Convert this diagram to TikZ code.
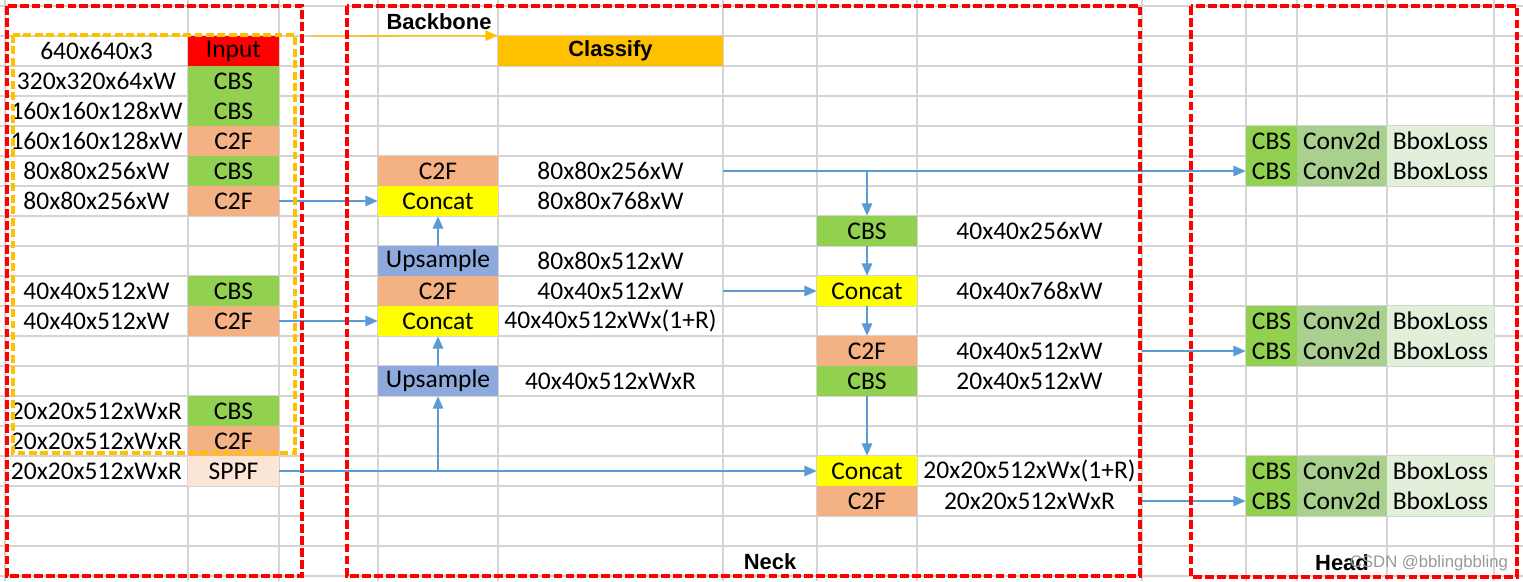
\documentclass[tikz,border=0pt]{standalone}
\usepackage{fontspec}
\setmainfont{Carlito}
\newfontfamily\titlefont{Liberation Sans}
\usetikzlibrary{arrows.meta,positioning,calc}
\definecolor{cbsgreen}{HTML}{92D050}
\definecolor{ctwof}{HTML}{F4B183}
\definecolor{catyellow}{HTML}{FFFF00}
\definecolor{upblue}{HTML}{8EA9DB}
\definecolor{sppfpink}{HTML}{FBE5D6}
\definecolor{clsorange}{HTML}{FFC000}
\definecolor{convgreen}{HTML}{A9D08E}
\definecolor{bboxgreen}{HTML}{E2EFDA}
\definecolor{inputred}{HTML}{FF0000}
\definecolor{gridgray}{HTML}{D4D4D4}
\definecolor{arrowblue}{HTML}{5B9BD5}

\tikzset{
  cell/.style={inner sep=0pt, minimum height=0.6cm, font=\fontsize{14.5}{16}\selectfont},
  shapecol/.style={cell, minimum width=3.66cm},
  blockcol/.style={cell, minimum width=1.82cm},
  neckcol/.style={cell, minimum width=2.4cm},
  labcol/.style={cell, minimum width=4.5cm},
  pancol/.style={cell, minimum width=2cm},
  hcbs/.style={cell, minimum width=1.02cm, fill=cbsgreen},
  hconv/.style={cell, minimum width=1.8cm, fill=convgreen},
  hbbox/.style={cell, minimum width=2.14cm, fill=bboxgreen},
  flow/.style={-{Triangle[length=7pt,width=6pt]}, arrowblue, line width=0.75pt},
  partbox/.style={red, dash pattern=on 5pt off 1.8pt, line width=2.1pt},
  bbbox/.style={clsorange, dash pattern=on 4.5pt off 2pt, line width=1.8pt},
  title/.style={font=\titlefont\bfseries\fontsize{12.5}{14}\selectfont},
}

\begin{document}
\begin{tikzpicture}[x=0.02cm, y=-0.02cm]
  \useasboundingbox (0,0) rectangle (1523,581);
  \fill[white] (0,0) rectangle (1523,581);

  % sheet grid
  \foreach \gy in {0,...,19}
    \draw[gridgray, line width=0.6pt] (0,{6+30*\gy}) -- (1523,{6+30*\gy});
  \foreach \gx in {5,188,279,378,498,723,817,917,1142,1246,1297,1387,1494}
    \draw[gridgray, line width=0.6pt] (\gx,0) -- (\gx,581);

  % backbone
  \foreach \r/\shp/\blk/\col in {1/640x640x3/Input/inputred, 2/320x320x64xW/CBS/cbsgreen,
      3/160x160x128xW/CBS/cbsgreen, 4/160x160x128xW/C2F/ctwof, 5/80x80x256xW/CBS/cbsgreen,
      6/80x80x256xW/C2F/ctwof, 9/40x40x512xW/CBS/cbsgreen, 10/40x40x512xW/C2F/ctwof,
      13/20x20x512xWxR/CBS/cbsgreen, 14/20x20x512xWxR/C2F/ctwof, 15/20x20x512xWxR/SPPF/sppfpink} {
    \node[shapecol] (s\r) at (96.5,{21+30*\r}) {\shp};
    \node[blockcol, fill=\col] (b\r) at (233.5,{21+30*\r}) {\blk};
  }
  \node[labcol, fill=clsorange, title] (cls) at (610.5,51) {Classify};

  % neck, top-down part
  \node[neckcol, fill=ctwof] (nk5) at (438,171) {C2F};
  \node[neckcol, fill=catyellow] (nk6) at (438,201) {Concat};
  \node[neckcol, fill=upblue] (nk8) at (438,261) {Upsample};
  \node[neckcol, fill=ctwof] (nk9) at (438,291) {C2F};
  \node[neckcol, fill=catyellow] (nk10) at (438,321) {Concat};
  \node[neckcol, fill=upblue] (nk12) at (438,381) {Upsample};
  \node[labcol] (nl5) at (610.5,171) {80x80x256xW};
  \node[labcol] (nl6) at (610.5,201) {80x80x768xW};
  \node[labcol] (nl8) at (610.5,261) {80x80x512xW};
  \node[labcol] (nl9) at (610.5,291) {40x40x512xW};
  \node[labcol] (nl10) at (610.5,321) {40x40x512xWx(1+R)};
  \node[labcol] (nl12) at (610.5,381) {40x40x512xWxR};

  % neck, bottom-up part
  \node[pancol, fill=cbsgreen] (pc7) at (867,231) {CBS};
  \node[pancol, fill=catyellow] (pc9) at (867,291) {Concat};
  \node[pancol, fill=ctwof] (pc11) at (867,351) {C2F};
  \node[pancol, fill=cbsgreen] (pc12) at (867,381) {CBS};
  \node[pancol, fill=catyellow] (pc15) at (867,471) {Concat};
  \node[pancol, fill=ctwof] (pc16) at (867,501) {C2F};
  \node[labcol] (pl7) at (1029.5,231) {40x40x256xW};
  \node[labcol] (pl9) at (1029.5,291) {40x40x768xW};
  \node[labcol] (pl11) at (1029.5,351) {40x40x512xW};
  \node[labcol] (pl12) at (1029.5,381) {20x40x512xW};
  \node[labcol] (pl15) at (1029.5,471) {20x20x512xWx(1+R)};
  \node[labcol] (pl16) at (1029.5,501) {20x20x512xWxR};

  % head
  \foreach \r in {4,5,10,11,15,16} {
    \node[hcbs] (hc\r) at (1271.5,{21+30*\r}) {CBS};
    \node[hconv] (hv\r) at (1342,{21+30*\r}) {Conv2d};
    \node[hbbox] (hb\r) at (1440.5,{21+30*\r}) {BboxLoss};
  }

  % connectors
  \draw[flow] (b6.east) -- (nk6.west);
  \draw[flow] (b10.east) -- (nk10.west);
  \draw[flow] (b15.east) -- (pc15.west);
  \draw[flow] (nk12 |- b15.east) -- (nk12.south);
  \draw[flow] (nk12.north) -- (nk10.south);
  \draw[flow] (nk8.north) -- (nk6.south);
  \draw[flow] (nl5.east) -- (hc5.west);
  \draw[flow] (pc7 |- nl5.east) -- (pc7.north);
  \draw[flow] (pc7.south) -- (pc9.north);
  \draw[flow] (nl9.east) -- (pc9.west);
  \draw[flow] (pc9.south) -- (pc11.north);
  \draw[flow] (pl11.east) -- (hc11.west);
  \draw[flow] (pc12.south) -- (pc15.north);
  \draw[flow] (pl16.east) -- (hc16.west);
  \coordinate (bbout) at (311,36);
  \draw[-{Triangle[length=7pt,width=6pt]}, clsorange, line width=0.75pt] (bbout) -- (cls.north west);

  % part frames
  \draw[bbbox] (13,35) rectangle (295,453);
  \draw[partbox] (7,6) rectangle (302,576);
  \draw[partbox] (347,6) rectangle (1140,576);
  \draw[partbox] (1191,6) rectangle (1517,577);

  \node[title] (bbtitle) at (439,22) {Backbone};
  \node[title] (necktitle) at (770,562) {Neck};
  \node[title] (headtitle) at (1342,563) {Head};
  \node[font=\titlefont\fontsize{9.5}{11}\selectfont, text=black!40] (mark) at (1429,563) {CSDN @bblingbbling};
\end{tikzpicture}
\end{document}
